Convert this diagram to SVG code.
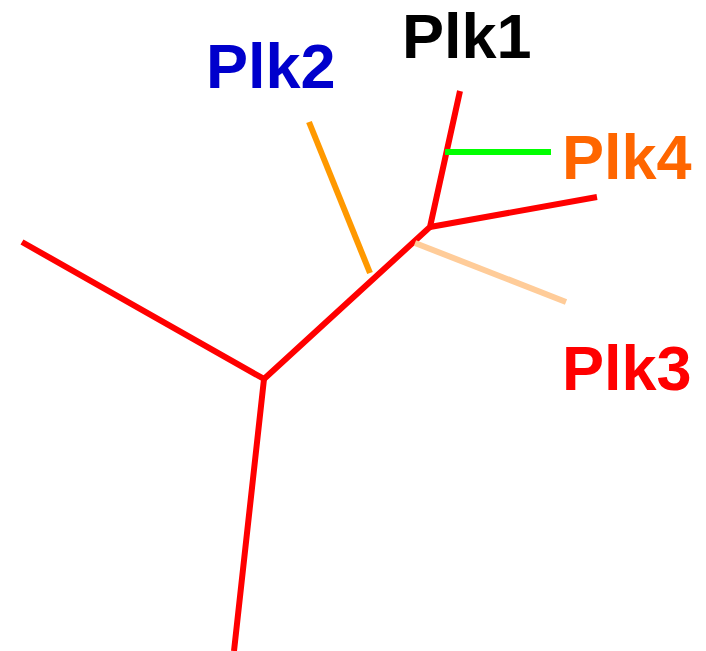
<svg xmlns="http://www.w3.org/2000/svg" width="706" height="651" viewBox="0 0 706 651">
<style>
.e{fill:none;stroke-width:6;stroke-linecap:butt;stroke-linejoin:miter}
.t{font-family:"Liberation Sans",Arial,sans-serif;font-weight:bold;font-size:63px}
</style>
<rect width="706" height="651" fill="#fff"/>
<g id="edges">
<polyline class="e" stroke="#FF0000" points="22,242 264,379 234,651"/>
<polyline class="e" stroke="#FF0000" points="264,379 430,227 460,91"/>
<line class="e" stroke="#FF0000" x1="430" y1="227" x2="597" y2="197"/>
<line class="e" stroke="#FF9900" x1="309" y1="122" x2="370" y2="273"/>
<line class="e" stroke="#FFCC99" x1="415" y1="243" x2="566" y2="302"/>
<line class="e" stroke="#00FF00" stroke-width="7" x1="445" y1="152" x2="551" y2="152"/>
</g>
<g id="plk1"><text class="t" x="402" y="58" fill="#000000">Plk1</text></g>
<g id="plk2"><text class="t" x="206" y="88" fill="#0000CC">Plk2</text></g>
<g id="plk4"><text class="t" x="562" y="179" fill="#FF6600">Plk4</text></g>
<g id="plk3"><text class="t" x="562" y="390" fill="#FF0000">Plk3</text></g>
</svg>
